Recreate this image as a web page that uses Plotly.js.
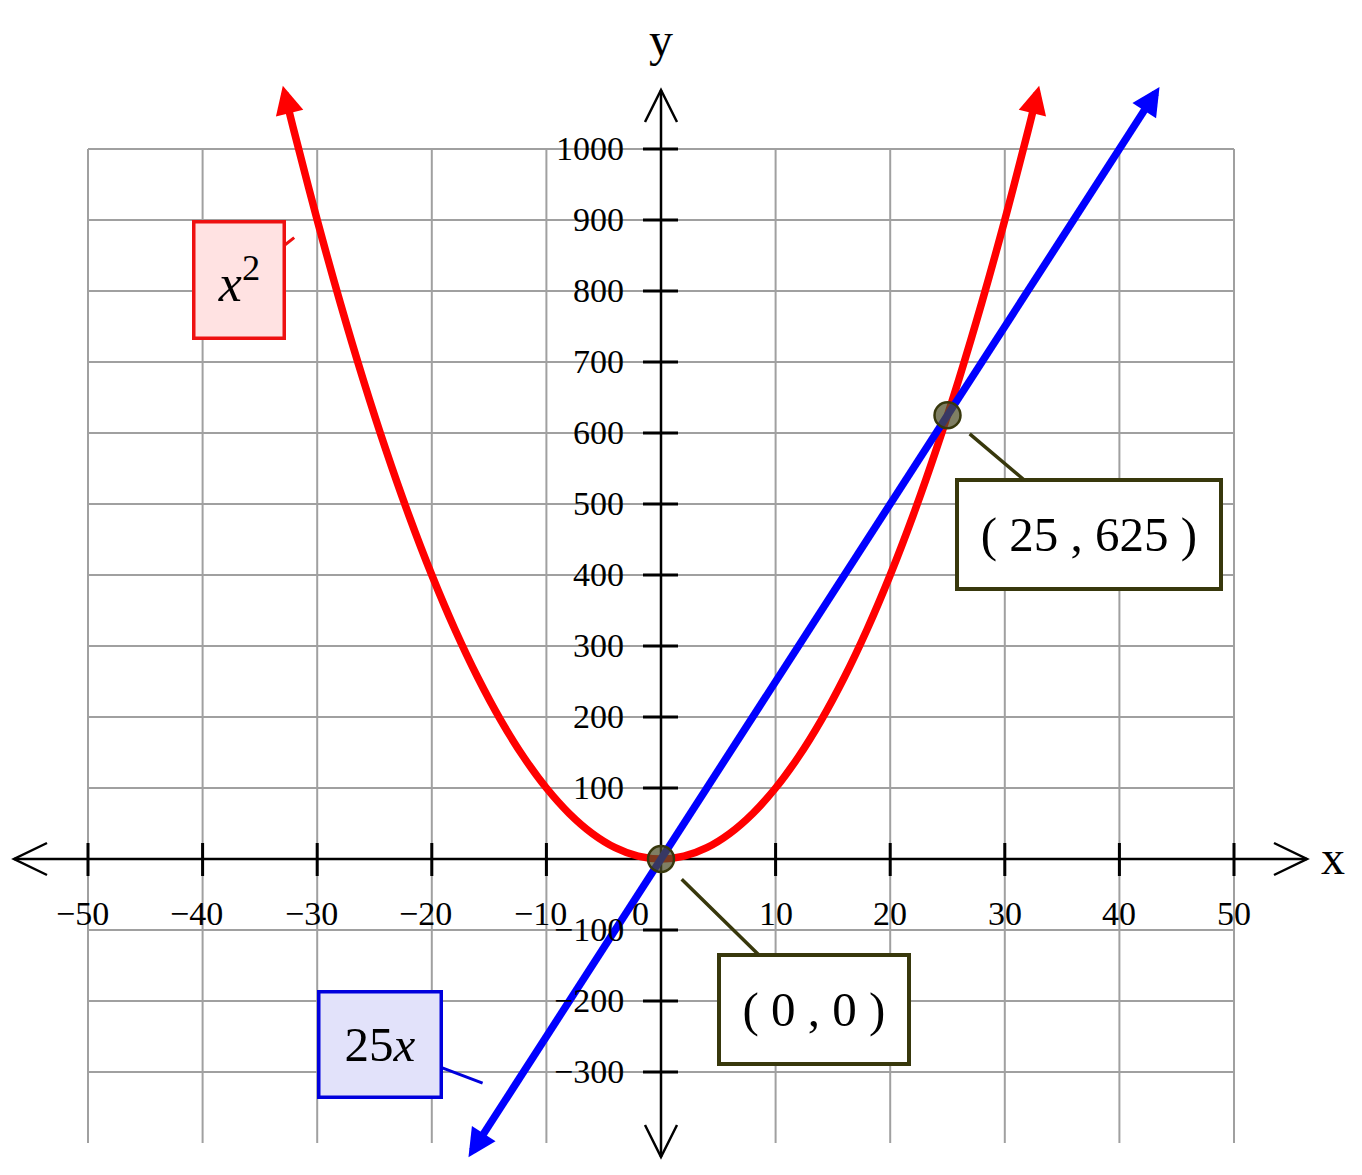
<!DOCTYPE html>
<html>
<head>
<meta charset="utf-8">
<script src="https://cdn.plot.ly/plotly-3.0.1.min.js"></script>
<style>html,body{margin:0;padding:0;background:#fff;}#chart{width:1362px;height:1175px;}</style>
</head>
<body>
<div id="chart"></div>
<script>
// ---------- data ----------
const xTickVals = [-50, -40, -30, -20, -10, 0, 10, 20, 30, 40, 50];
const xTickText = ['\u221250', '\u221240', '\u221230', '\u221220', '\u221210', '0', '10', '20', '30', '40', '50'];
const yTickVals = [-300, -200, -100, 100, 200, 300, 400, 500, 600, 700, 800, 900, 1000];
const yTickText = ['\u2212300', '\u2212200', '\u2212100', '100', '200', '300', '400', '500', '600', '700', '800', '900', '1000'];
const yGridVals = [-300, -200, -100, 0, 100, 200, 300, 400, 500, 600, 700, 800, 900, 1000];

// red curve x^2
const redX = [-32.6, -32, -30, -28, -26, -24, -22, -20, -18, -16, -14, -12, -10, -8, -6, -4, -2, 0,
              2, 4, 6, 8, 10, 12, 14, 16, 18, 20, 22, 24, 26, 28, 30, 32, 32.6];
const redY = [1063, 1024, 900, 784, 676, 576, 484, 400, 324, 256, 196, 144, 100, 64, 36, 16, 4, 0,
              4, 16, 36, 64, 100, 144, 196, 256, 324, 400, 484, 576, 676, 784, 900, 1024, 1063];
const redTipX = [-33, 33];
const redTipY = [1089, 1089];

// blue line 25x
const blueX = [-16.0, 42.7];
const blueY = [-400, 1067.5];
const blueTipX = [-16.8, 43.5];
const blueTipY = [-420, 1087.5];

// intersection points
const ptX = [0, 25];
const ptY = [0, 625];
const ptLabels = ['( 0 , 0 )', '( 25 , 625 )'];

const redLabel = '<i>x</i><sup>2</sup>';
const blueLabel = '25<i>x</i>';

// ---------- frame ----------
const W = 1362, H = 1175;
const X0 = 661, XS = 11.46, Y0 = 859, YS = 0.71;
const px2x = p => (p - X0) / XS;
const py2y = p => (Y0 - p) / YS;
const FONT = 'Liberation Serif, Times New Roman, serif';
const GRID = '#a0a0a0';
const OLIVE = '#38380c';

const shapes = [];
// vertical grid
xTickVals.forEach(v => shapes.push({type:'line', layer:'below', x0:v, x1:v, y0:-400, y1:1000,
  line:{color:GRID, width:2}}));
// horizontal grid
yGridVals.forEach(v => shapes.push({type:'line', layer:'below', x0:-50, x1:50, y0:v, y1:v,
  line:{color:GRID, width:2}}));
// axes
shapes.push({type:'line', layer:'below', x0:px2x(14), x1:px2x(1307), y0:0, y1:0, line:{color:'#000', width:2.5}});
shapes.push({type:'line', layer:'below', x0:0, x1:0, y0:py2y(90), y1:py2y(1157), line:{color:'#000', width:2.5}});
// axis chevrons
shapes.push({type:'path', layer:'below', path:`M ${px2x(47)},${py2y(843)} L ${px2x(14)},0 L ${px2x(47)},${py2y(875)}`, line:{color:'#000', width:2.5}});
shapes.push({type:'path', layer:'below', path:`M ${px2x(1274)},${py2y(843)} L ${px2x(1307)},0 L ${px2x(1274)},${py2y(875)}`, line:{color:'#000', width:2.5}});
shapes.push({type:'path', layer:'below', path:`M ${px2x(645)},${py2y(122)} L 0,${py2y(90)} L ${px2x(677)},${py2y(122)}`, line:{color:'#000', width:2.5}});
shapes.push({type:'path', layer:'below', path:`M ${px2x(645)},${py2y(1125)} L 0,${py2y(1157)} L ${px2x(677)},${py2y(1125)}`, line:{color:'#000', width:2.5}});
// tick marks
xTickVals.forEach(v => { if (v !== 0) shapes.push({type:'line', layer:'below', x0:v, x1:v, y0:py2y(843), y1:py2y(876), line:{color:'#000', width:3}}); });
yTickVals.forEach(v => shapes.push({type:'line', layer:'below', x0:px2x(643), x1:px2x(678), y0:v, y1:v, line:{color:'#000', width:3}}));

const annotations = [];
const tickFont = {family:FONT, size:34, color:'#000'};
xTickVals.forEach((v, i) => {
  annotations.push({x:v, y:0, text:xTickText[i], showarrow:false, xanchor:'center', yanchor:'middle',
    yshift:-54, xshift: v === 0 ? -21 : (v < 0 ? -6 : 0), font:tickFont});
});
yTickVals.forEach((v, i) => {
  annotations.push({x:0, y:v, text:yTickText[i], showarrow:false, xanchor:'right', yanchor:'middle',
    xshift:-35, yshift:1, font:tickFont});
});
// axis titles
annotations.push({x:px2x(1333), y:0, text:'x', showarrow:false, xanchor:'center', yanchor:'middle', yshift:2,
  font:{family:FONT, size:48, color:'#000'}});
annotations.push({x:0, y:py2y(45), text:'y', showarrow:false, xanchor:'center', yanchor:'middle', yshift:6,
  font:{family:FONT, size:48, color:'#000'}});

// arrow heads on curves
for (let i = 0; i < 2; i++) {
  const rEnd = i === 0 ? 0 : redX.length - 1;
  annotations.push({x:redTipX[i], y:redTipY[i], ax:redX[rEnd], ay:redY[rEnd], axref:'x', ayref:'y',
    text:'', showarrow:true, arrowhead:2, arrowsize:0.75, arrowwidth:7.5, arrowcolor:'#ff0000', standoff:0});
  const bEnd = i === 0 ? 0 : blueX.length - 1;
  annotations.push({x:blueTipX[i], y:blueTipY[i], ax:blueX[bEnd], ay:blueY[bEnd], axref:'x', ayref:'y',
    text:'', showarrow:true, arrowhead:2, arrowsize:0.75, arrowwidth:7.5, arrowcolor:'#0000ff', standoff:0});
}

const boxFont = {family:FONT, size:49, color:'#000'};
// intersection labels
annotations.push({x:ptX[0], y:ptY[0], ax:153, ay:150, text:ptLabels[0], showarrow:true, arrowhead:0,
  arrowwidth:3.5, arrowcolor:OLIVE, standoff:29, bordercolor:OLIVE, borderwidth:4, borderpad:0,
  bgcolor:'#ffffff', width:186, height:105, font:boxFont});
annotations.push({x:ptX[1], y:ptY[1], ax:141, ay:119, text:ptLabels[1], showarrow:true, arrowhead:0,
  arrowwidth:3.5, arrowcolor:OLIVE, standoff:29, bordercolor:OLIVE, borderwidth:4, borderpad:0,
  bgcolor:'#ffffff', width:260, height:105, font:boxFont});
// curve labels
annotations.push({x:-30, y:900, ax:-78, ay:60, text:redLabel, showarrow:true, arrowhead:0,
  arrowwidth:3, arrowcolor:'#ee1111', standoff:29, bordercolor:'#ee1111', borderwidth:3.5, borderpad:0,
  bgcolor:'#ffe2e2', width:87, height:113, font:{family:FONT, size:52, color:'#000'}});
annotations.push({x:-13.2, y:-330, ax:-130, ay:-49, text:blueLabel, showarrow:true, arrowhead:0,
  arrowwidth:3, arrowcolor:'#0000dd', standoff:29, bordercolor:'#0000dd', borderwidth:3.5, borderpad:0,
  bgcolor:'#e2e2fa', width:119, height:102, font:boxFont});

const traces = [
  {x:redX, y:redY, mode:'lines', line:{color:'#ff0000', width:7.5, shape:'spline'}, hoverinfo:'skip'},
  {x:blueX, y:blueY, mode:'lines', line:{color:'#0000ff', width:7.5}, hoverinfo:'skip'},
  {x:ptX, y:ptY, mode:'markers', marker:{size:26, color:'rgba(78,78,40,0.72)', line:{color:OLIVE, width:2.5}}, hoverinfo:'skip'}
];

const layout = {
  width:W, height:H, margin:{l:0, r:0, t:0, b:0},
  paper_bgcolor:'#ffffff', plot_bgcolor:'#ffffff', showlegend:false,
  xaxis:{range:[px2x(0), px2x(W)], visible:false, fixedrange:true},
  yaxis:{range:[py2y(H), py2y(0)], visible:false, fixedrange:true},
  shapes:shapes, annotations:annotations
};

Plotly.newPlot('chart', traces, layout, {staticPlot:true, displayModeBar:false});
</script>
</body>
</html>
